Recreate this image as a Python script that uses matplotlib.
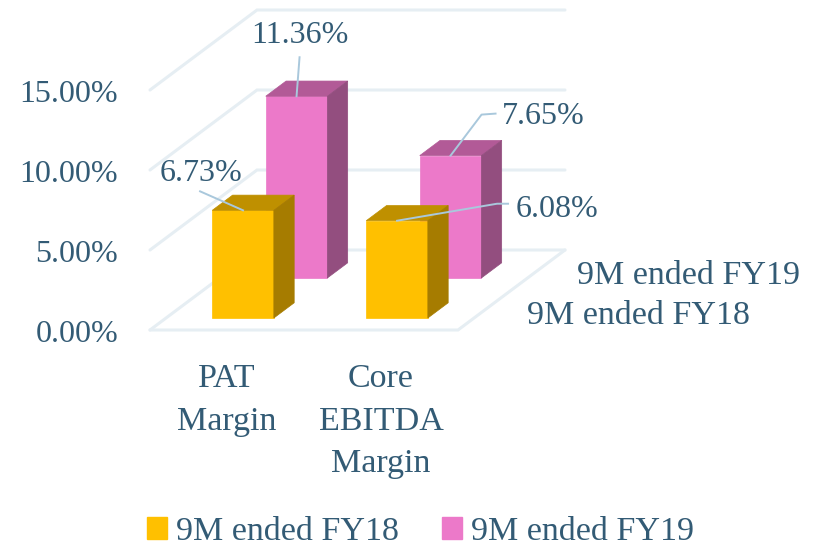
import matplotlib
matplotlib.use('Agg')
import matplotlib.pyplot as plt
from matplotlib.patches import Patch
from matplotlib.transforms import ScaledTranslation

# datos
categorias = ['PAT\nMargin', 'Core\nEBITDA\nMargin']
series = ['9M ended FY18', '9M ended FY19']
fy18 = [6.73, 6.08]
fy19 = [11.36, 7.65]
ticks_y = [0, 5, 10, 15]

plt.rcParams['font.family'] = ['Liberation Serif', 'DejaVu Serif']
texto = '#335B75'
grilla = '#E6EEF3'
guia = '#A9C8DC'

W, H = 813, 547
fig = plt.figure(figsize=(W / 100, H / 100), dpi=100)
# la caja de los ejes es el frente del piso, el resto se dibuja con clip_on=False
ax = fig.add_axes([150 / W, (H - 330) / H, 308 / W, 320 / H])
ax.set_xlim(-0.5, 1.5)
ax.set_ylim(0, 20)
for s in ax.spines.values():
    s.set_visible(False)
ax.patch.set_alpha(0)

px_x = 2 / 308   # categorias por pixel
px_y = 20 / 320  # porcentaje por pixel
fondo_x = 107 * px_x
fondo_y = 80 * px_y


def proy(x, d, v):
    # proyeccion oblicua: d=0 frente, d=1 fondo
    return x + d * fondo_x, v + d * fondo_y


def linea(pts, color, lw):
    ax.plot([p[0] for p in pts], [p[1] for p in pts], color=color, lw=lw,
            clip_on=False, solid_capstyle='round', solid_joinstyle='miter')


# grilla
for v in ticks_y:
    linea([proy(-0.5, 0, v), proy(-0.5, 1, v), proy(1.5, 1, v)], grilla, 2.2)
linea([proy(-0.5, 0, 0), proy(1.5, 0, 0), proy(1.5, 1, 0)], grilla, 2.2)

ancho = 0.2


def barra(x, d0, d1, v, frente, tapa, lado):
    a, b = x - ancho, x + ancho
    ax.fill(*zip(proy(a, d0, 0), proy(b, d0, 0), proy(b, d0, v), proy(a, d0, v)),
            color=frente, lw=0.5, clip_on=False, zorder=3)
    ax.fill(*zip(proy(a, d0, v), proy(b, d0, v), proy(b, d1, v), proy(a, d1, v)),
            color=tapa, lw=0.5, clip_on=False, zorder=3)
    ax.fill(*zip(proy(b, d0, 0), proy(b, d1, 0), proy(b, d1, v), proy(b, d0, v)),
            color=lado, lw=0.5, clip_on=False, zorder=3)


for i in range(2):
    barra(i, 0.65, 0.84, fy19[i], '#EC79C9', '#B25A97', '#934E7F')
for i in range(2):
    barra(i, 0.15, 0.34, fy18[i], '#FFC000', '#BF9000', '#A67C00')


# etiquetas con linea guia: quiebres y texto relativos a la punta de la barra (pixeles)
def etiqueta(x, d, v, quiebres, pos_txt):
    x0, y0 = proy(x, d, v)
    pts = [(x0, y0)] + [(x0 + q[0] * px_x, y0 + q[1] * px_y) for q in quiebres]
    ax.plot([p[0] for p in pts], [p[1] for p in pts], color=guia, lw=1.4,
            clip_on=False, zorder=4)
    ax.text(x0 + pos_txt[0] * px_x, y0 + pos_txt[1] * px_y, '%.2f%%' % v,
            color=texto, fontsize=23, ha='center', va='center', zorder=5)


etiqueta(0, 0.15, fy18[0], [(-43, 19)], (-42, 37))
etiqueta(1, 0.15, fy18[1], [(100, 17), (111, 17)], (160, 11))
etiqueta(0, 0.65, fy19[0], [(3, 39)], (3, 61))
etiqueta(1, 0.65, fy19[1], [(31, 41), (45, 42)], (93, 39))

# ejes
ax.set_yticks(ticks_y)
ax.set_yticklabels(['%.2f%%' % v for v in ticks_y], fontsize=23, color=texto)
ax.set_xticks(range(2))
ax.set_xticklabels(categorias, fontsize=24.5, color=texto, linespacing=1.52)
ax.tick_params(axis='y', length=0, pad=23)
ax.tick_params(axis='x', length=0, pad=24)
baja = ScaledTranslation(0, -1.5 / 100, fig.dpi_scale_trans)
for t in ax.get_yticklabels():
    t.set_transform(t.get_transform() + baja)

# etiquetas del eje de profundidad
x18, y18 = proy(1.5, 0.25, 0)
x19, y19 = proy(1.5, 0.75, 0)
ax.text(x18 + 42 * px_x, y18 - 6 * px_y, series[0], color=texto, fontsize=24.5, ha='left',
        va='center', clip_on=False)
ax.text(x19 + 39 * px_x, y19 - 6 * px_y, series[1], color=texto, fontsize=24.5, ha='left',
        va='center', clip_on=False)

handles = [Patch(color='#FFC000', label=series[0]), Patch(color='#EC79C9', label=series[1])]
fig.legend(handles=handles, loc='lower left', bbox_to_anchor=(147 / W, 0.0), ncol=2,
           frameon=False, fontsize=24.5, labelcolor=texto, handlelength=0.59,
           handleheight=0.59, handletextpad=0.26, columnspacing=1.26, borderpad=0,
           borderaxespad=0)

fig.savefig('out.png', dpi=100)
